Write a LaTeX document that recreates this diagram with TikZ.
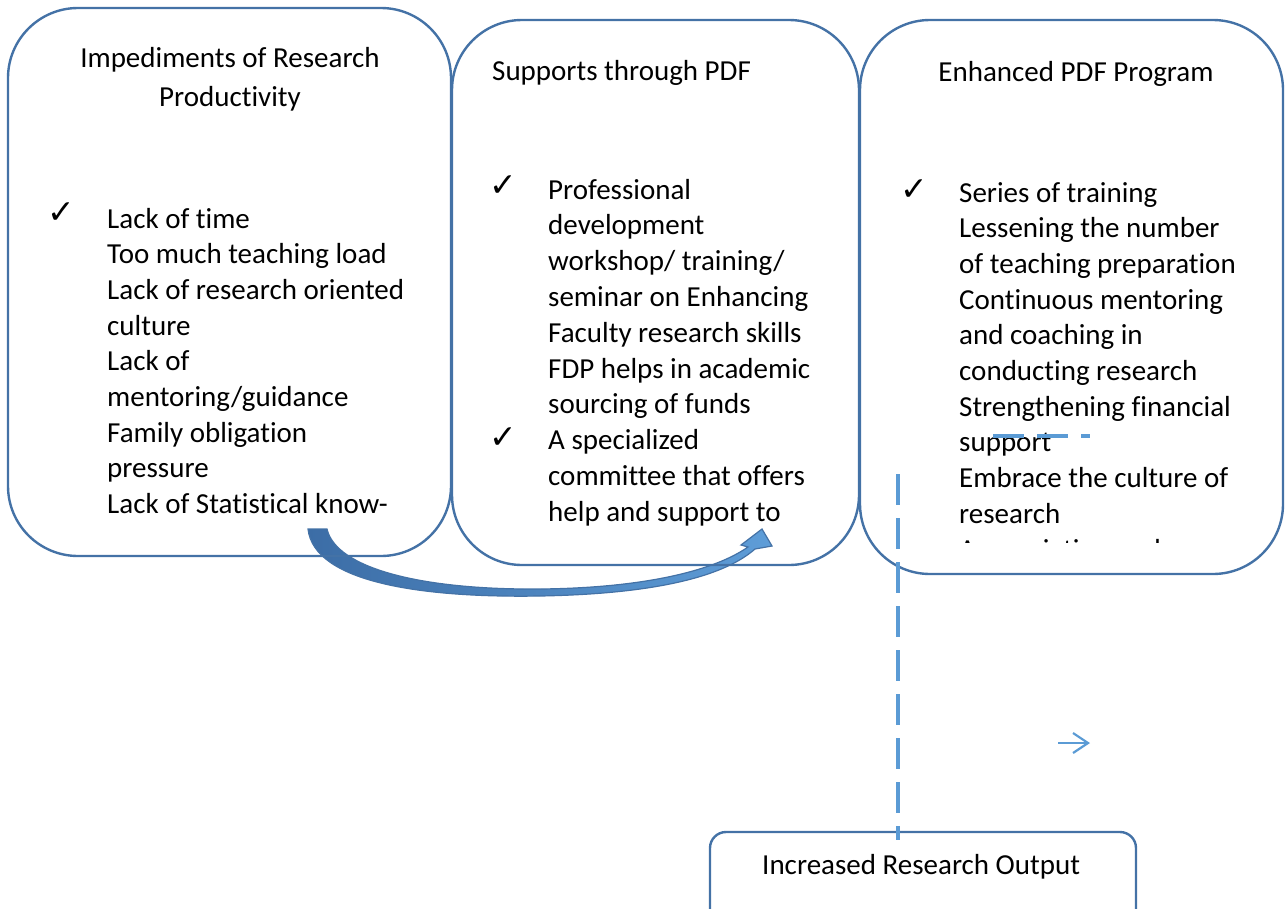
\documentclass[tikz,border=0pt]{standalone}
\usepackage{fontspec}
\setmainfont{Carlito}[Ligatures=NoCommon]
\newfontfamily\symfont{DejaVu Sans}
\usetikzlibrary{arrows.meta}
\definecolor{boxline}{HTML}{4472A6}
\definecolor{dashblue}{HTML}{5B9BD5}
\definecolor{arrdark}{HTML}{3C6DA6}
\definecolor{arrlight}{HTML}{5E9DD8}
\begin{document}
\begin{tikzpicture}[x=1pt,y=-1pt,
  panel/.style={draw=boxline, line width=2.4pt, rounded corners=70pt, inner sep=0pt},
  body/.style={font=\fontsize{29}{35.7}\selectfont, inner sep=0pt, anchor=base west},
  headline/.style={font=\fontsize{29}{35.7}\selectfont, inner sep=0pt, anchor=base},
  tick/.style={font=\symfont\fontsize{33}{33}\selectfont, inner sep=0pt, anchor=base west},
  dashline/.style={draw=dashblue, line width=3.6pt, dash pattern=on 31pt off 13pt}
]
\useasboundingbox (0,0) rectangle (1285,908);
\clip (0,0) rectangle (1285,908);

% curved block arrow from the first panel to the second
\path[draw=boxline, line width=1.2pt, left color=arrdark, right color=arrlight, line join=miter]
  (308,529) .. controls (314,582) and (420,598) .. (540,596)
  .. controls (650,594) and (722,578) .. (755,549)
  -- (772,546) -- (762,529) -- (741,545) -- (748,547)
  .. controls (712,572) and (640,588) .. (540,589)
  .. controls (420,590) and (336,568) .. (327,529) -- cycle;

% panels
\node[panel, minimum width=443pt, minimum height=548pt] (imp) at (229.5,282) {};
\node[panel, minimum width=407pt, minimum height=545pt] (sup) at (655.5,292.5) {};
\node[panel, minimum width=423pt, minimum height=554pt] (enh) at (1071.5,297) {};
\node[panel, rounded corners=16pt, minimum width=426pt, minimum height=98pt] (out) at (923,881) {};

% impediments
\node[headline] (impT1) at (230,67) {Impediments of Research};
\node[headline] (impT2) at (230,106) {Productivity};
\node[tick] (impC) at (47,223) {✓};
\foreach \t [count=\i from 0] in {Lack of time, Too much teaching load, Lack of research oriented, culture, Lack of, mentoring/guidance, Family obligation, pressure, Lack of Statistical know-}
  \node[body] (impL\i) at (107,{228+35.7*\i}) {\t};

% supports
\node[body] (supT) at (492,80) {Supports through PDF};
\node[tick] (supC1) at (489,196) {✓};
\node[tick] (supC2) at (489,448) {✓};
\foreach \t [count=\i from 0] in {Professional, development, workshop/ training/, seminar on Enhancing, Faculty research skills, FDP helps in academic, sourcing of funds, A specialized, committee that offers, help and support to}
  \node[body] (supL\i) at (548,{199+35.8*\i}) {\t};

% enhanced program
\node[headline] (enhT) at (1076,81) {Enhanced PDF Program};
\node[tick] (enhC) at (900,200) {✓};
\foreach \t [count=\i from 0] in {Series of training, Lessening the number, of teaching preparation, Continuous mentoring, and coaching in, conducting research, Strengthening financial, support, Embrace the culture of, research}
  \node[body] (enhL\i) at (959,{202+35.7*\i}) {\t};
\begin{scope}
  \clip (862,500) rectangle (1283,542);
  \node[body] (enhL10) at (959,559) {Appreciation and};
\end{scope}

% outcome
\node[body] (outT) at (762,874) {Increased Research Output};

% dashed links
\coordinate (dtop) at (898,474);
\coordinate (dbot) at (898,840);
\draw[dashline] (dtop) -- (dbot);
\coordinate (hleft) at (993,436);
\coordinate (hright) at (1090,436);
\draw[dashline] (hleft) -- (hright);

% small arrow
\coordinate (saL) at (1058,743);
\coordinate (saR) at (1090,743);
\draw[draw=dashblue, line width=2.2pt, -{Straight Barb[length=15pt,width=20pt]}] (saL) -- (saR);
\end{tikzpicture}
\end{document}
